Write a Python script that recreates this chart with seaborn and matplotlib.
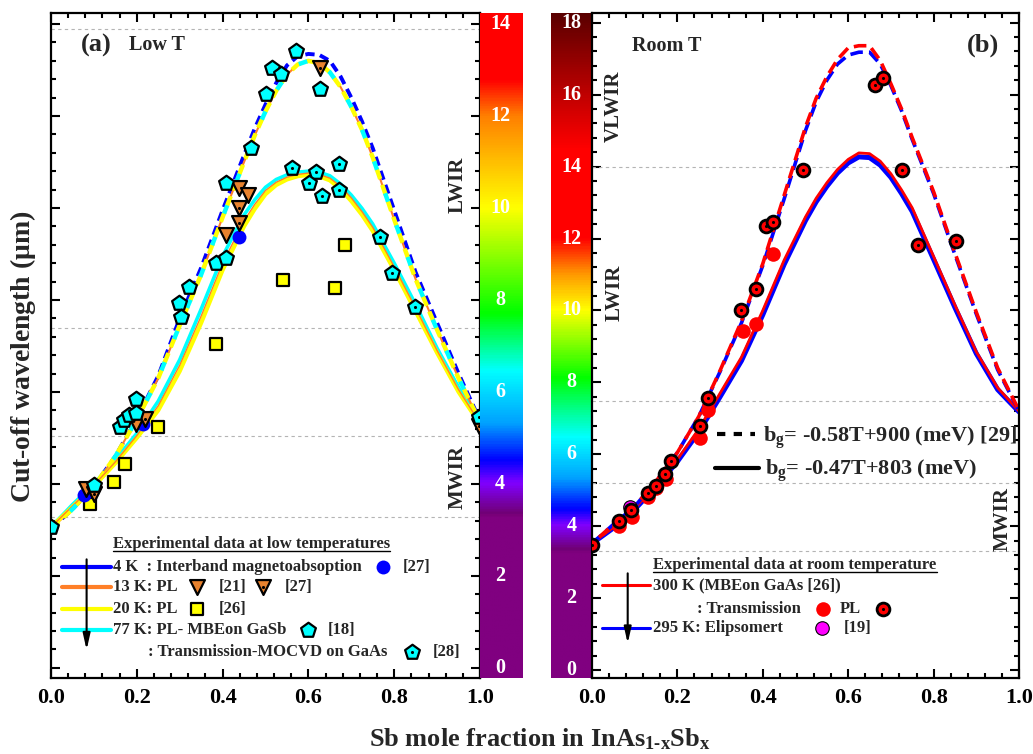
import numpy as np
import seaborn as sns
import matplotlib.pyplot as plt
from matplotlib.colors import LinearSegmentedColormap
from matplotlib.ticker import MultipleLocator


# ---------------- panel (a): low temperature ----------------
x_low = [0.0, 0.05, 0.10, 0.15, 0.20, 0.25, 0.30, 0.35, 0.40, 0.45, 0.475, 0.50,
         0.525, 0.55, 0.575, 0.60, 0.625, 0.65, 0.675, 0.70, 0.725, 0.75,
         0.80, 0.85, 0.90, 0.95, 1.0]
dash_4K = [3.03, 3.45, 3.95, 4.60, 5.42, 6.35, 7.60, 8.70, 9.95, 11.15, 11.73, 12.25,
           12.72, 13.10, 13.30, 13.35, 13.33, 13.20, 12.86, 12.40, 11.88, 11.30,
           9.95, 8.60, 7.50, 6.40, 5.38]
dash_lowT = [3.03, 3.45, 3.95, 4.60, 5.40, 6.30, 7.45, 8.55, 9.80, 11.00, 11.58, 12.10,
             12.55, 12.90, 13.12, 13.20, 13.15, 12.95, 12.63, 12.20, 11.70, 11.10,
             9.75, 8.45, 7.35, 6.30, 5.35]
solid_77K = [3.06, 3.55, 4.00, 4.52, 5.10, 5.80, 6.70, 7.80, 8.95, 9.85, 10.18, 10.45,
             10.62, 10.72, 10.78, 10.80, 10.78, 10.70, 10.52, 10.28, 9.99, 9.65,
             8.80, 7.90, 6.95, 6.10, 5.35]
solid_13K = [3.06, 3.52, 3.97, 4.48, 5.05, 5.70, 6.58, 7.65, 8.80, 9.72, 10.08, 10.38,
             10.56, 10.67, 10.73, 10.76, 10.73, 10.65, 10.47, 10.22, 9.92, 9.58,
             8.72, 7.82, 6.90, 6.05, 5.32]
solid_20K = [3.06, 3.50, 3.95, 4.45, 5.00, 5.60, 6.45, 7.50, 8.65, 9.60, 9.98, 10.30,
             10.50, 10.62, 10.69, 10.72, 10.69, 10.60, 10.41, 10.15, 9.85, 9.50,
             8.65, 7.75, 6.85, 6.00, 5.30]

mbe18_x = [0.0, 0.101, 0.162, 0.170, 0.182, 0.198, 0.198, 0.298, 0.302, 0.321,
           0.384, 0.407, 0.409, 0.467, 0.500, 0.514, 0.537, 0.572, 0.627]
mbe18_y = [3.06, 3.97, 5.24, 5.38, 5.50, 5.54, 5.85, 7.93, 7.64, 8.29,
           8.80, 8.92, 10.55, 11.30, 12.47, 13.04, 12.91, 13.41, 12.59]
mocvd28_x = [0.561, 0.617, 0.601, 0.631, 0.671, 0.671, 0.768, 0.796, 0.849, 0.997]
mocvd28_y = [10.86, 10.79, 10.55, 10.25, 10.96, 10.39, 9.38, 8.59, 7.85, 5.46]
pl21_x = [0.081, 0.198, 0.409, 0.439, 0.460]
pl21_y = [3.90, 5.31, 9.41, 10.43, 10.28]
pl27_x = [0.101, 0.218, 0.439, 0.439, 0.627, 0.997]
pl27_y = [3.79, 5.42, 10.01, 9.68, 13.04, 5.25]
mag27_x = [0.077, 0.214, 0.438]
mag27_y = [3.77, 5.31, 9.38]
pl26_x = [0.091, 0.148, 0.172, 0.250, 0.384, 0.540, 0.661, 0.685]
pl26_y = [3.57, 4.04, 4.44, 5.24, 7.04, 8.43, 8.25, 9.20]

# ---------------- panel (b): room temperature ----------------
x_room = [0.0, 0.05, 0.10, 0.15, 0.20, 0.25, 0.30, 0.35, 0.40, 0.45, 0.50,
          0.525, 0.55, 0.575, 0.60, 0.625, 0.65, 0.675, 0.70, 0.725, 0.75,
          0.80, 0.85, 0.90, 0.95, 1.0]
dash_300K = [3.52, 4.05, 4.55, 5.25, 6.05, 7.05, 8.33, 9.70, 11.30, 13.20, 15.10,
             15.90, 16.50, 16.98, 17.30, 17.36, 17.36, 16.95, 16.30, 15.60, 14.80,
             13.30, 11.60, 9.95, 8.40, 7.22]
dash_295K = [3.52, 4.05, 4.55, 5.25, 6.05, 7.05, 8.30, 9.65, 11.25, 13.10, 15.00,
             15.80, 16.40, 16.85, 17.10, 17.18, 17.18, 16.85, 16.25, 15.55, 14.75,
             13.25, 11.55, 9.90, 8.35, 7.20]
solid_300K = [3.52, 3.97, 4.50, 5.15, 5.86, 6.70, 7.70, 8.70, 10.00, 11.40, 12.60,
              13.12, 13.55, 13.92, 14.20, 14.38, 14.36, 14.15, 13.80, 13.35, 12.85,
              11.50, 10.15, 8.85, 7.85, 7.20]
solid_295K = [3.52, 3.95, 4.47, 5.10, 5.80, 6.62, 7.60, 8.60, 9.88, 11.28, 12.50,
              13.02, 13.45, 13.82, 14.10, 14.27, 14.25, 14.04, 13.70, 13.25, 12.75,
              11.42, 10.08, 8.80, 7.80, 7.18]

pl_x = [0.0, 0.064, 0.092, 0.132, 0.149, 0.171, 0.184, 0.253, 0.272, 0.350,
        0.384, 0.408, 0.423, 0.493, 0.662, 0.682, 0.727, 0.764, 0.852]
pl_y = [3.49, 4.14, 4.44, 4.93, 5.11, 5.44, 5.81, 6.80, 7.57, 10.02,
        10.60, 12.36, 12.45, 13.91, 16.27, 16.46, 13.91, 11.83, 11.94]
trans_x = [0.064, 0.093, 0.132, 0.150, 0.173, 0.253, 0.272, 0.353, 0.383, 0.423]
trans_y = [4.01, 4.26, 4.81, 5.05, 5.30, 6.44, 7.22, 9.43, 9.63, 11.56]
ell19_x = [0.090]
ell19_y = [4.54]

# band limits (grey dashed) and colour bar ticks
bands_a = [13.9, 7.38, 5.05, 3.28]
bands_b = [14.0, 7.48, 5.19, 3.31]
cb_ticks_a = [0, 2, 4, 6, 8, 10, 12, 14]
cb_ticks_b = [0, 2, 4, 6, 8, 10, 12, 14, 16, 18]

ylim_a = (-0.22, 14.24)
ylim_b = (-0.22, 18.27)

stops_a = [(ylim_a[0], '#800080'), (3.28, '#800080'), (3.32, '#700070'),
           (4.0, '#8000ff'), (4.5, '#0000ff'), (5.3, '#00a0ff'), (6.45, '#00ffff'),
           (7.7, '#00ff00'), (10.0, '#ffff00'), (12.0, '#ff8000'), (12.8, '#ff0000'),
           (ylim_a[1], '#ff0000')]
stops_b = [(ylim_b[0], '#800080'), (3.25, '#800080'), (3.3, '#700070'),
           (4.0, '#8000ff'), (4.45, '#0000ff'), (5.3, '#00a0ff'), (6.45, '#00ffff'),
           (7.3, '#00ff80'), (8.1, '#00ff00'), (10.0, '#ffff00'), (11.0, '#ff9900'),
           (12.0, '#ff0000'), (14.5, '#ff0000'), (16.0, '#c00000'), (ylim_b[1], '#5a0000')]

sns.set_theme(style='ticks')
plt.rcParams['font.family'] = ['Liberation Serif', 'DejaVu Serif']
plt.rcParams['font.weight'] = 'bold'
plt.rcParams['mathtext.fontset'] = 'custom'
plt.rcParams['mathtext.rm'] = 'Liberation Serif:bold'
plt.rcParams['mathtext.it'] = 'Liberation Serif:bold'
plt.rcParams['mathtext.bf'] = 'Liberation Serif:bold'
plt.rcParams['axes.edgecolor'] = 'black'
plt.rcParams['axes.linewidth'] = 1.6

W, H = 1033, 754
fig = plt.figure(figsize=(W / 100, H / 100), dpi=100)


def box(x0, x1):
    return [x0 / W, 1 - 678 / H, (x1 - x0) / W, 665 / H]


axA = fig.add_axes(box(51, 480))
cbA = fig.add_axes(box(480, 523))
cbB = fig.add_axes(box(551, 592))
axB = fig.add_axes(box(592, 1019))


def strip(cb, stops, ylim, ticks, xpos):
    lo, hi = ylim
    pos = [(v - lo) / (hi - lo) for v, c in stops]
    cmap = LinearSegmentedColormap.from_list('band', list(zip(pos, [c for v, c in stops])))
    grad = np.linspace(lo, hi, 800)[:, None]
    cb.imshow(grad, extent=[0, 1, lo, hi], origin='lower', aspect='auto',
              cmap=cmap, vmin=lo, vmax=hi, interpolation='bilinear')
    cb.set_xlim(0, 1)
    cb.set_ylim(lo, hi)
    cb.axis('off')
    for t in ticks:
        cb.text(xpos, t, str(t), color='white', ha='center', va='center',
                fontsize=14.5, fontweight='bold')


strip(cbA, stops_a, ylim_a, cb_ticks_a, 0.47)
strip(cbB, stops_b, ylim_b, cb_ticks_b, 0.5)


def frame(ax, ylim, bands):
    ax.set_xlim(0, 1)
    ax.set_ylim(*ylim)
    ax.xaxis.set_major_locator(MultipleLocator(0.2))
    ax.xaxis.set_minor_locator(MultipleLocator(0.04))
    ax.yaxis.set_major_locator(MultipleLocator(2))
    ax.yaxis.set_minor_locator(MultipleLocator(0.4))
    ax.tick_params(which='both', direction='in', top=True, right=True,
                   labelleft=False, colors='black', width=1.5, labelsize=16, pad=7)
    ax.tick_params(which='major', length=6.5)
    ax.tick_params(which='minor', length=3.5)
    for b in bands:
        ax.axhline(b, color='#b4b4b4', lw=0.8, ls=(0, (3, 3)), zorder=1)
    ax.set_xlabel('')
    ax.set_ylabel('')


def pts(ax, xs, ys, style, dot=False, z=5):
    sns.scatterplot(x=xs, y=ys, ax=ax, zorder=z, **style)
    if dot:
        sns.scatterplot(x=xs, y=ys, ax=ax, marker='o', s=5, color='black',
                        linewidth=0, zorder=z + 0.5)


def key(ax, x, y, style, dot=False):
    ax.scatter([x], [y], marker=style['marker'], s=style['s'], color=style['color'],
               edgecolor=style['edgecolor'], linewidth=style['linewidth'],
               zorder=8, clip_on=False)
    if dot:
        ax.scatter([x], [y], marker='o', s=5, color='black', linewidth=0, zorder=9)


PENT = dict(marker='p', s=125, color='#00ffff', edgecolor='black', linewidth=1.6)
TRI = dict(marker='v', s=115, color='#e8822e', edgecolor='black', linewidth=1.6)
SQ = dict(marker='s', s=75, color='#ffff00', edgecolor='black', linewidth=1.6)
BLUE = dict(marker='o', s=100, color='#0000ff', edgecolor='#0000ff', linewidth=0)
RED = dict(marker='o', s=110, color='#ff0000', edgecolor='#ff0000', linewidth=0)
REDPL = dict(marker='o', s=85, color='#ff0000', edgecolor='black', linewidth=2.0)
MAG = dict(marker='o', s=95, color='#ff00ff', edgecolor='black', linewidth=0.8)

# ---------------- panel (a) ----------------
frame(axA, ylim_a, bands_a)
sns.lineplot(x=x_low, y=dash_4K, ax=axA, color='#0000ff', lw=2.8, ls=(0, (2.4, 1.4)), zorder=2)
sns.lineplot(x=x_low, y=dash_lowT, ax=axA, color='#ff7f27', lw=1.5, zorder=2.1)
sns.lineplot(x=x_low, y=dash_lowT, ax=axA, color='#ffff00', lw=3.2, ls=(0, (2.4, 1.4)), zorder=2.2)
sns.lineplot(x=x_low, y=dash_lowT, ax=axA, color='#00ffff', lw=3.2, ls=(1.8, (2.0, 5.6)), zorder=2.3)
sns.lineplot(x=x_low, y=solid_77K, ax=axA, color='#00ffff', lw=2.6, zorder=2)
sns.lineplot(x=x_low, y=solid_20K, ax=axA, color='#ffff00', lw=3.0, zorder=2.1)
sns.lineplot(x=x_low, y=solid_13K, ax=axA, color='#ff7f27', lw=1.0, zorder=2.2)

pts(axA, pl26_x, pl26_y, SQ)
pts(axA, mag27_x, mag27_y, BLUE)
pts(axA, pl21_x, pl21_y, TRI, z=5.2)
pts(axA, pl27_x, pl27_y, TRI, dot=True, z=5.2)
pts(axA, mbe18_x, mbe18_y, PENT, z=6)
pts(axA, mocvd28_x, mocvd28_y, PENT, dot=True, z=6)

axA.text(0.105, 13.54, '(a)', fontsize=19, ha='center', va='center')
axA.text(0.246, 13.54, 'Low T', fontsize=14.5, ha='center', va='center')
axA.text(0.948, 10.5, 'LWIR', fontsize=15, rotation=90, ha='center', va='center')
axA.text(0.948, 4.16, 'MWIR', fontsize=15, rotation=90, ha='center', va='center')

rows_a = [2.2, 1.76, 1.29, 0.83, 0.35]
for yy, c in zip(rows_a[:4], ['#0000ff', '#ff7f27', '#ffff00', '#00ffff']):
    axA.plot([0.025, 0.141], [yy, yy], color=c, lw=3, zorder=7)
axA.annotate('', xy=(0.083, 0.39), xytext=(0.083, 2.36), zorder=9,
             arrowprops=dict(arrowstyle='-|>,head_width=0.18,head_length=0.8',
                             color='black', lw=1.5, shrinkA=0, shrinkB=0))
hdrA = axA.text(0.145, 2.6, 'Experimental data at low temperatures', fontsize=12, va='baseline')
lg = dict(fontsize=12, va='center', ha='left')
axA.text(0.144, rows_a[0], '4 K  : Interband magnetoabsoption', **lg)
key(axA, 0.775, rows_a[0], BLUE)
axA.text(0.820, rows_a[0], '[27]', **lg)
axA.text(0.144, rows_a[1], '13 K: PL', **lg)
key(axA, 0.340, rows_a[1], TRI)
axA.text(0.390, rows_a[1], '[21]', **lg)
key(axA, 0.494, rows_a[1], TRI, dot=True)
axA.text(0.545, rows_a[1], '[27]', **lg)
axA.text(0.144, rows_a[2], '20 K: PL', **lg)
key(axA, 0.340, rows_a[2], SQ)
axA.text(0.390, rows_a[2], '[26]', **lg)
axA.text(0.144, rows_a[3], '77 K: PL- MBEon GaSb', **lg)
key(axA, 0.600, rows_a[3], PENT)
axA.text(0.644, rows_a[3], '[18]', **lg)
axA.text(0.227, rows_a[4], ': Transmission-MOCVD on GaAs', **lg)
key(axA, 0.841, rows_a[4], PENT, dot=True)
axA.text(0.890, rows_a[4], '[28]', **lg)

# ---------------- panel (b) ----------------
frame(axB, ylim_b, bands_b)
sns.lineplot(x=x_room, y=solid_295K, ax=axB, color='#0000ff', lw=3.6, zorder=2)
sns.lineplot(x=x_room, y=solid_300K, ax=axB, color='#ff0000', lw=2.0, zorder=2.1)
sns.lineplot(x=x_room, y=dash_295K, ax=axB, color='#0000ff', lw=2.6, ls=(0, (3.5, 1.7)), zorder=2.2)
sns.lineplot(x=x_room, y=dash_300K, ax=axB, color='#ff0000', lw=2.6, ls=(2.6, (3.5, 1.7)), zorder=2.3)

pts(axB, ell19_x, ell19_y, MAG)
pts(axB, trans_x, trans_y, RED, z=5.2)
pts(axB, pl_x, pl_y, REDPL, dot=True, z=6)

axB.text(0.915, 17.36, '(b)', fontsize=19, ha='center', va='center')
axB.text(0.174, 17.36, 'Room T', fontsize=14.5, ha='center', va='center')
axB.text(0.052, 15.67, 'VLWIR', fontsize=15, rotation=90, ha='center', va='center')
axB.text(0.052, 10.5, 'LWIR', fontsize=15, rotation=90, ha='center', va='center')
axB.text(0.962, 4.2, 'MWIR', fontsize=15, rotation=90, ha='center', va='center')

axB.plot([0.292, 0.382], [6.57, 6.57], color='black', lw=3, ls=(0, (2, 2)))
axB.text(0.400, 6.34, r'b$_\mathrm{g}$= -0.58T+900 (meV) [29]', fontsize=16, va='baseline')
axB.plot([0.288, 0.392], [5.63, 5.63], color='black', lw=3)
axB.text(0.405, 5.43, r'b$_\mathrm{g}$= -0.47T+803 (meV)', fontsize=16, va='baseline')

rows_b = [2.36, 1.71, 1.16]
axB.plot([0.023, 0.136], [rows_b[0], rows_b[0]], color='#ff0000', lw=2.2, zorder=7)
axB.plot([0.023, 0.136], [rows_b[2], rows_b[2]], color='#0000ff', lw=2.2, zorder=7)
axB.annotate('', xy=(0.0836, 0.74), xytext=(0.0836, 2.69), zorder=9,
             arrowprops=dict(arrowstyle='-|>,head_width=0.18,head_length=0.8',
                             color='black', lw=1.5, shrinkA=0, shrinkB=0))
hdrB = axB.text(0.1436, 2.8, 'Experimental data at room temperature', fontsize=12, va='baseline')
axB.text(0.142, rows_b[0], '300 K (MBEon GaAs [26])', **lg)
axB.text(0.245, rows_b[1], ': Transmission', **lg)
key(axB, 0.542, rows_b[1], RED)
axB.text(0.581, rows_b[1], 'PL', **lg)
key(axB, 0.681, rows_b[1], REDPL, dot=True)
axB.text(0.142, rows_b[2], '295 K: Elipsomert', **lg)
key(axB, 0.538, rows_b[2], MAG)
axB.text(0.589, rows_b[2], '[19]', **lg)

fig.text(0.022, 0.527, r'Cut-off wavelength ($\mathbf{\mu}$m)', rotation=90,
         fontsize=20, ha='center', va='center')
fig.text(0.523, 0.0106, 'Sb mole fraction in InAs$_\\mathrm{1\u2010x}$Sb$_\\mathrm{x}$',
         fontsize=19, ha='center', va='baseline')

# underline the two legend headers
fig.canvas.draw()
rend = fig.canvas.get_renderer()
for ax, t, off in [(axA, hdrA, 0.05), (axB, hdrB, 0.07)]:
    bb = t.get_window_extent(rend).transformed(ax.transData.inverted())
    y0 = t.get_position()[1] - off
    ax.plot([bb.x0, bb.x1], [y0, y0], color='black', lw=1.0, zorder=7)

fig.savefig('out.png', dpi=100)
